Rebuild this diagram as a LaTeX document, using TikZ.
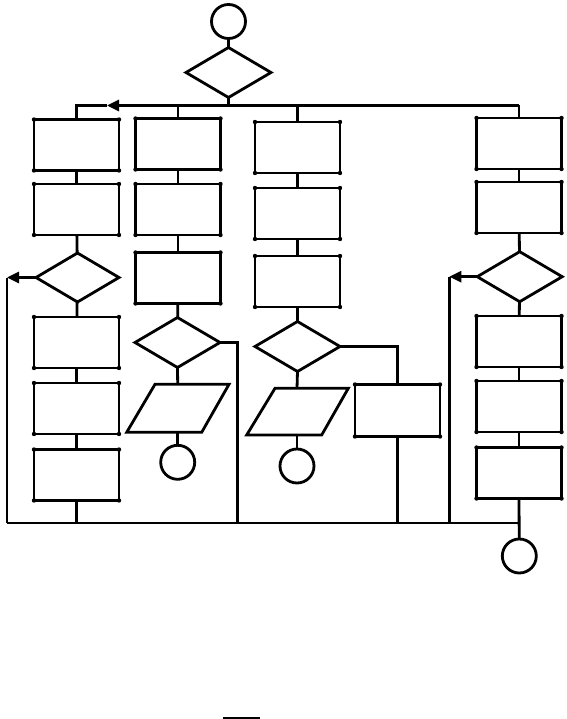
\documentclass[tikz,border=0pt]{standalone}
\usetikzlibrary{shapes.geometric,arrows.meta}
\begin{document}
\begin{tikzpicture}[x=1pt,y=-1pt,
  fl/.style={draw, line width=2.8pt, inner sep=0pt, outer sep=0pt},
  boxn/.style={fl, rectangle, minimum width=85pt, minimum height=51pt},
  dia/.style={fl, diamond, minimum width=85pt, minimum height=50pt},
  term/.style={fl, circle, minimum size=34pt},
  conn/.style={line width=2.8pt},
  tip/.style={-{Triangle[length=12pt,width=11pt]}},
  iobox/.style={line width=2.8pt, line join=miter}]
\useasboundingbox (0,0) rectangle (566,719);

% top
\node[term] (start) at (228.5,21.5) {};
\node[dia] (d0) at (228.5,72.5) {};

% column 1
\node[boxn] (a1) at (76.5,145) {};
\node[boxn] (a2) at (76.5,209.5) {};
\node[dia, minimum width=83pt, minimum height=49pt] (ad) at (77.5,277.5) {};
\node[boxn] (a3) at (76.5,342.5) {};
\node[boxn] (a4) at (76.5,408.5) {};
\node[boxn] (a5) at (76.5,475) {};

% column 2
\node[boxn] (b1) at (178,144) {};
\node[boxn] (b2) at (178,209.5) {};
\node[boxn] (b3) at (178,278) {};
\node[dia] (bd) at (177.5,342.5) {};
\coordinate (bpt) at (177.7,384.3);
\coordinate (bpb) at (177.7,432.3);
\draw[iobox] (155,384.3) -- (229,384.3) -- (201.7,432.3) -- (126.7,432.3) -- cycle;
\node[term] (bc) at (177.7,462.3) {};

% column 3
\node[boxn] (c1) at (297.5,147.5) {};
\node[boxn] (c2) at (297.5,213.5) {};
\node[boxn] (c3) at (297.5,281.5) {};
\node[dia] (cd) at (297.5,346.5) {};
\coordinate (cpt) at (297,388.3);
\coordinate (cpb) at (297,435);
\draw[iobox] (275,388.3) -- (348.3,388.3) -- (321.7,435) -- (246.7,435) -- cycle;
\node[term] (cc) at (297,466) {};
\node[boxn, minimum height=52pt] (r1) at (397.5,410.5) {};

% column 4
\node[boxn] (e1) at (519,143.5) {};
\node[boxn] (e2) at (519,207.5) {};
\node[dia] (ed) at (519.7,276.7) {};
\node[boxn] (e3) at (519,341.5) {};
\node[boxn] (e4) at (519,406.5) {};
\node[boxn] (e5) at (519,473) {};
\node[term] (ec) at (519.3,556) {};

% corner dots
\foreach \n in {a1,a2,a3,a4,a5,b1,b2,b3,c1,c2,c3,r1,e1,e2,e3,e4,e5}
  \foreach \a in {north west,north east,south west,south east}
    \fill (\n.\a) circle (2.2pt);

% bus coordinates
\coordinate (jt) at (d0.south |- 0,105.5);
\coordinate (jt1) at (a1.north |- 0,105.5);
\coordinate (jt2) at (b1.north |- 0,105.5);
\coordinate (jt3) at (c1.north |- 0,105.5);
\coordinate (jt4) at (e1.north |- 0,105.5);
\coordinate (arr) at (107,105.5);
\coordinate (lb) at (7,523);
\coordinate (lt) at (7,277.5);
\coordinate (rt) at (449.3,276.7);
\coordinate (rb) at (449.3,523);
\coordinate (eb) at (e5.south |- 0,523);

% connectors top
\draw[conn] (start) -- (d0);
\draw[conn] (d0.south) -- (jt);
\draw[conn] (jt4) -- (jt2);
\draw[conn, tip] (jt2) -- (arr);
\draw[conn] (arr) -- (jt1) -- (a1.north);
\draw[conn] (jt2) -- (b1.north);
\draw[conn] (jt3) -- (c1.north);
\draw[conn] (jt4) -- (e1.north);

% column 1
\draw[conn] (a1) -- (a2);
\draw[conn] (a2) -- (ad);
\draw[conn] (ad) -- (a3);
\draw[conn] (a3) -- (a4);
\draw[conn] (a4) -- (a5);
\draw[conn] (a5.south) -- (a5.south |- lb);
\draw[conn, tip] (ad.west) -- (lt);
\draw[conn] (lt) -- (lb);

% column 2
\draw[conn] (b1) -- (b2);
\draw[conn] (b2) -- (b3);
\draw[conn] (b3) -- (bd);
\draw[conn] (bd.south) -- (bpt);
\draw[conn] (bpb) -- (bc);
\draw[conn] (bd.east) -- (237.7,342.5) -- (237.7,523);

% column 3
\draw[conn] (c1) -- (c2);
\draw[conn] (c2) -- (c3);
\draw[conn] (c3) -- (cd);
\draw[conn] (cd.south) -- (cpt);
\draw[conn] (cpb) -- (cc);
\draw[conn] (cd.east) -- (r1.north |- cd.east) -- (r1.north);
\draw[conn] (r1.south) -- (r1.south |- lb);

% column 4
\draw[conn] (e1) -- (e2);
\draw[conn] (e2) -- (ed);
\draw[conn] (ed) -- (e3);
\draw[conn] (e3) -- (e4);
\draw[conn] (e4) -- (e5);
\draw[conn] (e5.south) -- (ec);
\draw[conn, tip] (ed.west) -- (rt);
\draw[conn] (rt) -- (rb);

% bottom bus
\draw[conn] (lb) -- (eb);

% small mark at the bottom
\draw[line width=2pt] (223,717.8) -- (260,717.8);
\end{tikzpicture}
\end{document}
